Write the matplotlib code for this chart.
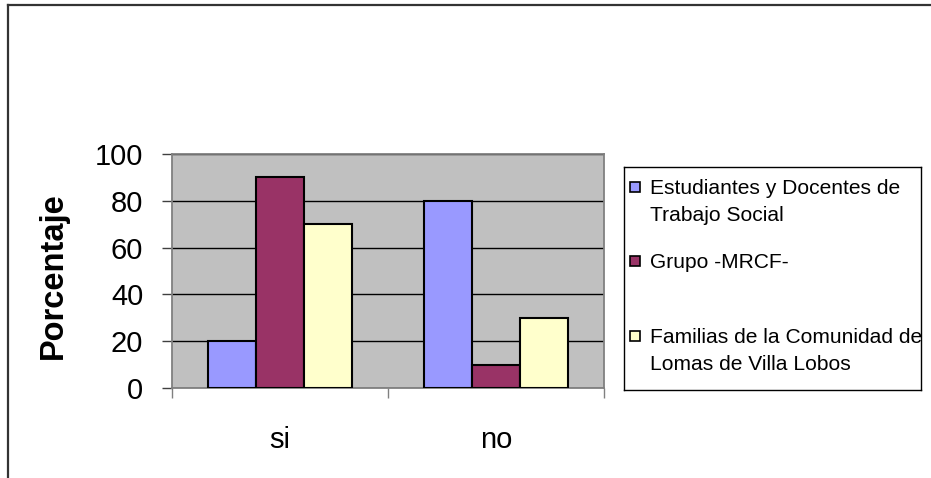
import matplotlib

matplotlib.use("Agg")
import matplotlib.pyplot as plt
import numpy as np
from matplotlib.lines import Line2D
from matplotlib.patches import Rectangle

plt.rcParams["font.family"] = ["Liberation Sans", "DejaVu Sans"]

categories = ["si", "no"]
series_names = [
    "Estudiantes y Docentes de\nTrabajo Social",
    "Grupo -MRCF-",
    "Familias de la Comunidad de\nLomas de Villa Lobos",
]
series_values = [
    [20, 80],
    [90, 10],
    [70, 30],
]
series_colors = ["#9999FF", "#993366", "#FFFFCC"]
y_ticks = [0, 20, 40, 60, 80, 100]

W, H = 931, 478
fig = plt.figure(figsize=(W / 100, H / 100), dpi=100)


def px_box(left, top, right, bottom):
    return [left / W, 1 - bottom / H, (right - left) / W, (bottom - top) / H]


# plot area
ax = fig.add_axes(px_box(172, 154, 604, 388))
ax.set_facecolor("#C0C0C0")
x = np.arange(len(categories))
bar_w = 1 / 4.5
for i, (vals, color) in enumerate(zip(series_values, series_colors)):
    ax.bar(x + (i - 1) * bar_w, vals, width=bar_w, color=color,
           edgecolor="black", linewidth=1.5, zorder=3)

ax.set_xlim(-0.5, len(categories) - 0.5)
ax.set_ylim(0, 100)
ax.set_yticks(y_ticks)
ax.yaxis.grid(True, color="black", linewidth=1)
ax.set_axisbelow(True)
ax.tick_params(axis="y", labelsize=21, length=7.2, width=1, color="#404040", pad=13.5)
ax.set_xticks(x)
ax.set_xticklabels(categories)
ax.tick_params(axis="x", which="major", labelsize=21, length=0, pad=27)
ax.set_xticks(np.arange(len(categories) + 1) - 0.5, minor=True)
ax.tick_params(axis="x", which="minor", length=7.2, width=1, color="#808080")
for side in ax.spines.values():
    side.set_color("#808080")
    side.set_linewidth(1.3)

fig.text(53 / W, 1 - 276 / H, "Porcentaje", rotation=90, ha="center",
         va="center", fontsize=23.5, fontweight="bold")

# legend box
lg_left, lg_top, lg_right, lg_bottom = 624, 167, 921, 390
lax = fig.add_axes(px_box(lg_left, lg_top, lg_right, lg_bottom))
lax.set_xlim(0, lg_right - lg_left)
lax.set_ylim(lg_bottom - lg_top, 0)
lax.set_xticks([])
lax.set_yticks([])
for side in lax.spines.values():
    side.set_color("black")
    side.set_linewidth(1)
slot = (lg_bottom - lg_top) / len(series_names)
for i, (name, color) in enumerate(zip(series_names, series_colors)):
    base = 27 + i * slot
    lax.add_patch(Rectangle((6, base - 12), 10, 10, facecolor=color,
                            edgecolor="black", linewidth=1.2))
    for k, line in enumerate(name.split("\n")):
        lax.text(26, base + k * 27, line, fontsize=15.1, va="baseline", ha="left")

# outer chart frame
fig.add_artist(Line2D([8 / W, 8 / W], [0, 1 - 5 / H], color="#333333",
                      linewidth=1.6, transform=fig.transFigure))
fig.add_artist(Line2D([8 / W, 1], [1 - 5 / H, 1 - 5 / H], color="#333333",
                      linewidth=1.6, transform=fig.transFigure))

fig.savefig("out.png", dpi=100)
